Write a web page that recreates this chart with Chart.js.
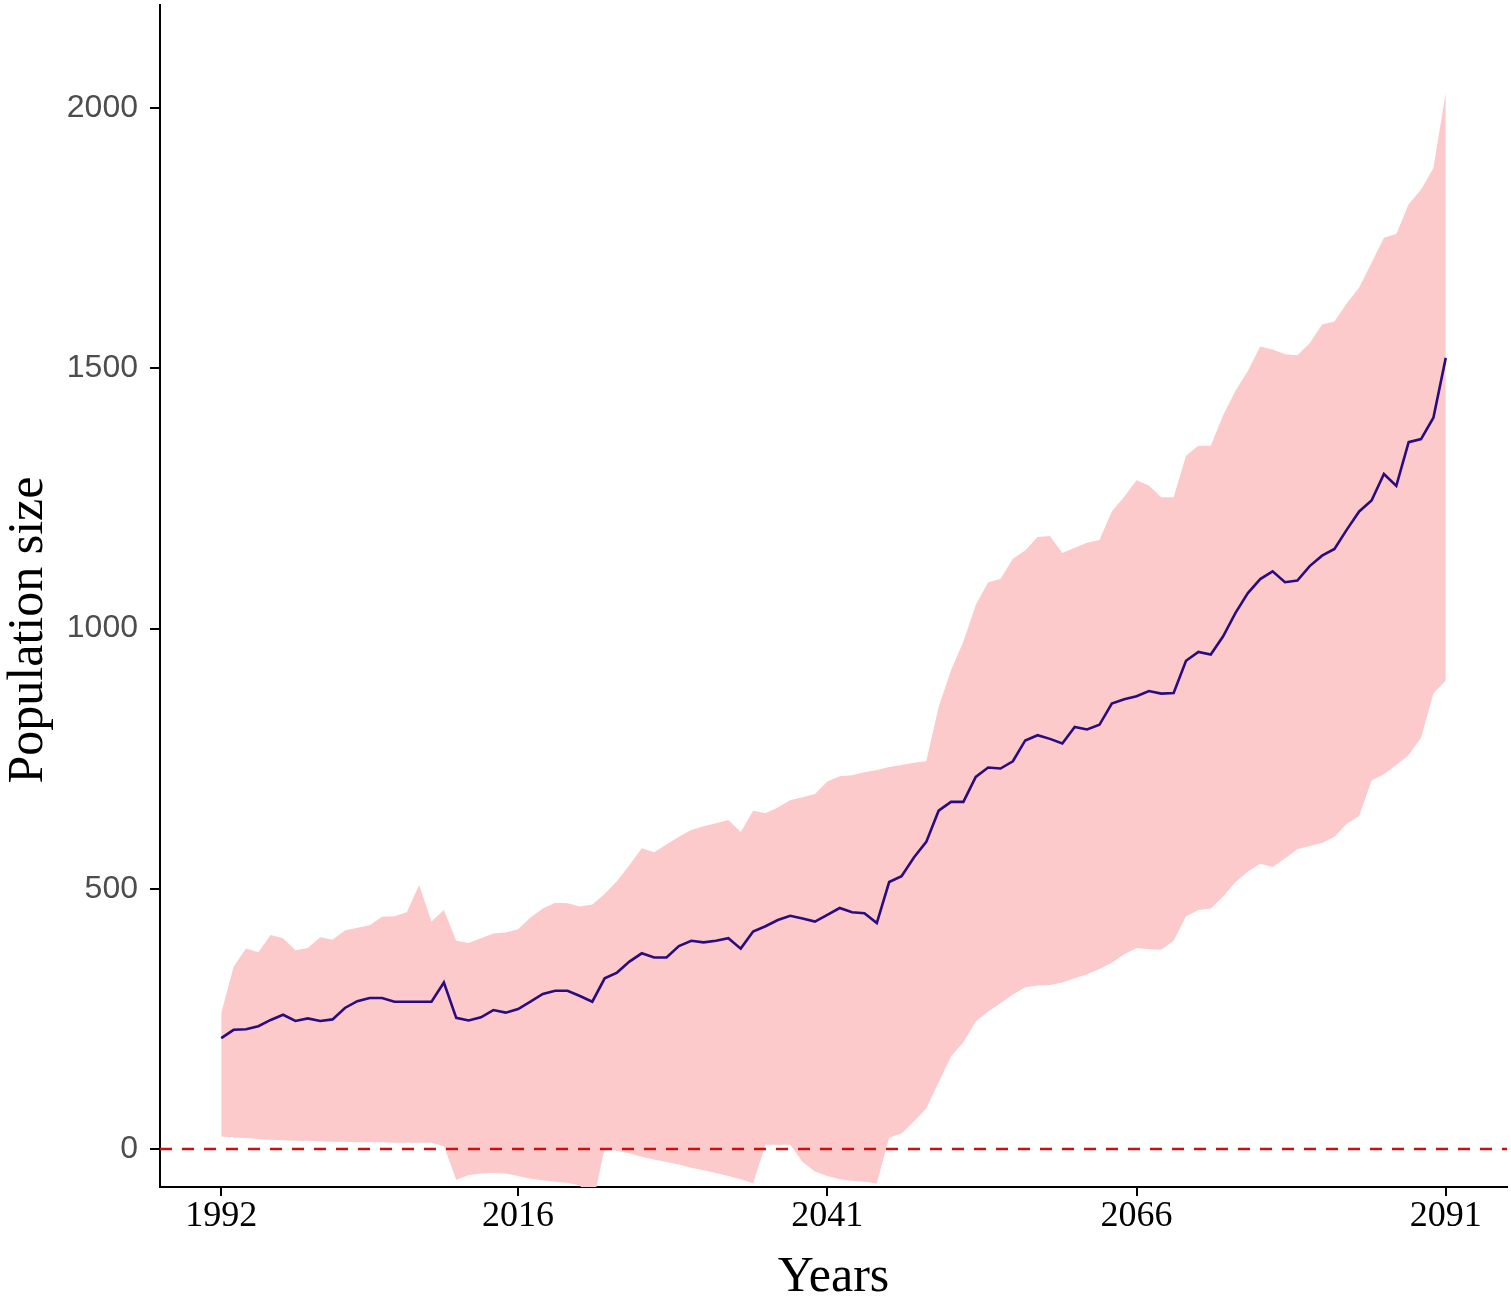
<!DOCTYPE html>
<html>
<head>
<meta charset="utf-8">
<script src="https://cdn.jsdelivr.net/npm/chart.js@4.4.1/dist/chart.umd.min.js"></script>
<style>
  html, body { margin: 0; padding: 0; background: #ffffff; }
  #wrap { width: 1511px; height: 1300px; position: relative; }
</style>
</head>
<body>
<div id="wrap"><canvas id="c"></canvas></div>
<script>
// ---- Data ----
const startYear = 1992;
const years = Array.from({ length: 100 }, (_, i) => startYear + i); // 1992..2091

const meanPop = [
  213,229,230,236,248,258,246,251,246,249,
  271,284,290,290,283,283,283,283,320,252,
  247,253,267,262,269,283,298,304,304,294,
  283,328,339,360,376,368,368,390,400,397,
  400,405,385,418,428,440,448,443,437,450,
  463,455,453,434,513,524,560,590,650,667,
  667,715,733,731,745,785,795,788,779,811,
  806,815,856,864,870,880,875,876,938,955,
  950,985,1030,1068,1095,1110,1089,1092,1120,1140,
  1153,1190,1225,1246,1297,1274,1358,1364,1405,1520
];

const upperPop = [
  261,350,385,378,411,405,382,386,407,402,
  420,425,430,446,447,455,507,437,459,400,
  396,405,414,416,422,445,462,473,472,466,
  470,490,515,545,578,570,585,600,613,620,
  626,632,609,650,645,656,670,676,682,706,
  716,718,724,728,734,738,742,745,849,920,
  975,1045,1089,1095,1134,1150,1176,1178,1145,1155,
  1165,1170,1225,1253,1285,1275,1252,1252,1332,1351,
  1351,1410,1457,1495,1542,1536,1527,1525,1548,1584,
  1590,1625,1655,1703,1751,1758,1815,1843,1885,2030
];

const lowerPop = [
  24,22,21,19,18,17,16,16,15,14,
  14,13,13,13,12,12,12,12,6,-59,
  -50,-47,-46,-47,-52,-57,-60,-63,-65,-70,
  -110,2,-4,-8,-15,-20,-25,-30,-36,-41,
  -46,-52,-58,-66,8,8,8,-25,-43,-52,
  -58,-61,-63,-66,22,30,53,78,128,178,
  205,245,264,280,297,311,314,315,320,328,
  336,346,358,374,386,384,383,400,447,459,
  462,485,513,533,548,542,558,576,582,588,
  600,625,640,708,720,738,757,790,875,900
];

const xTickYears = [1992, 2016, 2041, 2066, 2091];
const yTickValues = [0, 500, 1000, 1500, 2000];
const refLineValue = 0;
const yTitleText = 'Population size';
const xTitleText = 'Years';

const xMin = 1987.05, xMax = 2095.95;
const yMin = -73, yMax = 2198;

const serif = '"Liberation Serif", "Times New Roman", serif';

// ---- Build datasets ----
const toXY = arr => arr.map((v, i) => ({ x: years[i], y: v }));

// y-axis title drawn as canvas text (placed like the reference)
const yTitlePlugin = {
  id: 'yTitle',
  afterDraw(chart) {
    const { ctx, chartArea } = chart;
    ctx.save();
    ctx.translate(29, (chartArea.top + chartArea.bottom) / 2 + 34);
    ctx.rotate(-Math.PI / 2);
    ctx.fillStyle = '#000';
    ctx.font = '50px ' + serif;
    ctx.textAlign = 'center';
    ctx.textBaseline = 'middle';
    ctx.fillText(yTitleText, 0, 0);
    ctx.restore();
  }
};

const ctx = document.getElementById('c').getContext('2d');
new Chart(ctx, {
  type: 'line',
  data: {
    datasets: [
      {
        label: 'mean',
        data: toXY(meanPop),
        borderColor: '#2a0c80',
        borderWidth: 2.6,
        pointRadius: 0,
        tension: 0,
        fill: false,
        order: 0
      },
      {
        label: 'zero',
        data: [{ x: xMin, y: refLineValue }, { x: xMax, y: refLineValue }],
        borderColor: '#cc1010',
        borderWidth: 2.4,
        borderDash: [12, 10],
        pointRadius: 0,
        fill: false,
        order: 1
      },
      {
        label: 'upper',
        data: toXY(upperPop),
        borderWidth: 0,
        borderColor: 'rgba(0,0,0,0)',
        backgroundColor: '#fccaca',
        pointRadius: 0,
        tension: 0,
        fill: { target: 3 },
        order: 2
      },
      {
        label: 'lower',
        data: toXY(lowerPop),
        borderWidth: 0,
        borderColor: 'rgba(0,0,0,0)',
        pointRadius: 0,
        tension: 0,
        fill: false,
        order: 3
      }
    ]
  },
  plugins: [yTitlePlugin],
  options: {
    responsive: true,
    maintainAspectRatio: false,
    animation: false,
    events: [],
    layout: { padding: { top: 5, right: 4, left: 0, bottom: 0 } },
    plugins: {
      legend: { display: false },
      tooltip: { enabled: false }
    },
    scales: {
      x: {
        type: 'linear',
        min: xMin,
        max: xMax,
        afterBuildTicks: s => { s.ticks = xTickYears.map(v => ({ value: v })); },
        afterFit: s => { s.height = 113; s.paddingLeft = 0; s.paddingRight = 0; },
        grid: { display: true, drawOnChartArea: false, drawTicks: true, tickLength: 9, color: '#000', lineWidth: 2 },
        border: { display: true, color: '#000', width: 2 },
        ticks: {
          autoSkip: false,
          maxRotation: 0,
          padding: 3,
          color: '#000',
          font: { family: serif, size: 36, lineHeight: 1 },
          callback: v => String(v)
        },
        title: {
          display: true,
          text: xTitleText,
          color: '#000',
          padding: { top: 0, bottom: -3 },
          font: { family: serif, size: 50, lineHeight: 1 }
        }
      },
      y: {
        type: 'linear',
        min: yMin,
        max: yMax,
        afterBuildTicks: s => { s.ticks = yTickValues.map(v => ({ value: v })); },
        afterFit: s => { s.width = 160; s.paddingTop = 0; s.paddingBottom = 0; },
        grid: { display: true, drawOnChartArea: false, drawTicks: true, tickLength: 10, color: '#000', lineWidth: 2 },
        border: { display: true, color: '#000', width: 2 },
        ticks: {
          padding: 12,
          color: '#4d4d4d',
          font: { family: '"Liberation Sans", Arial, sans-serif', size: 32 },
          callback: v => String(v)
        },
        title: { display: false }
      }
    }
  }
});
</script>
</body>
</html>
